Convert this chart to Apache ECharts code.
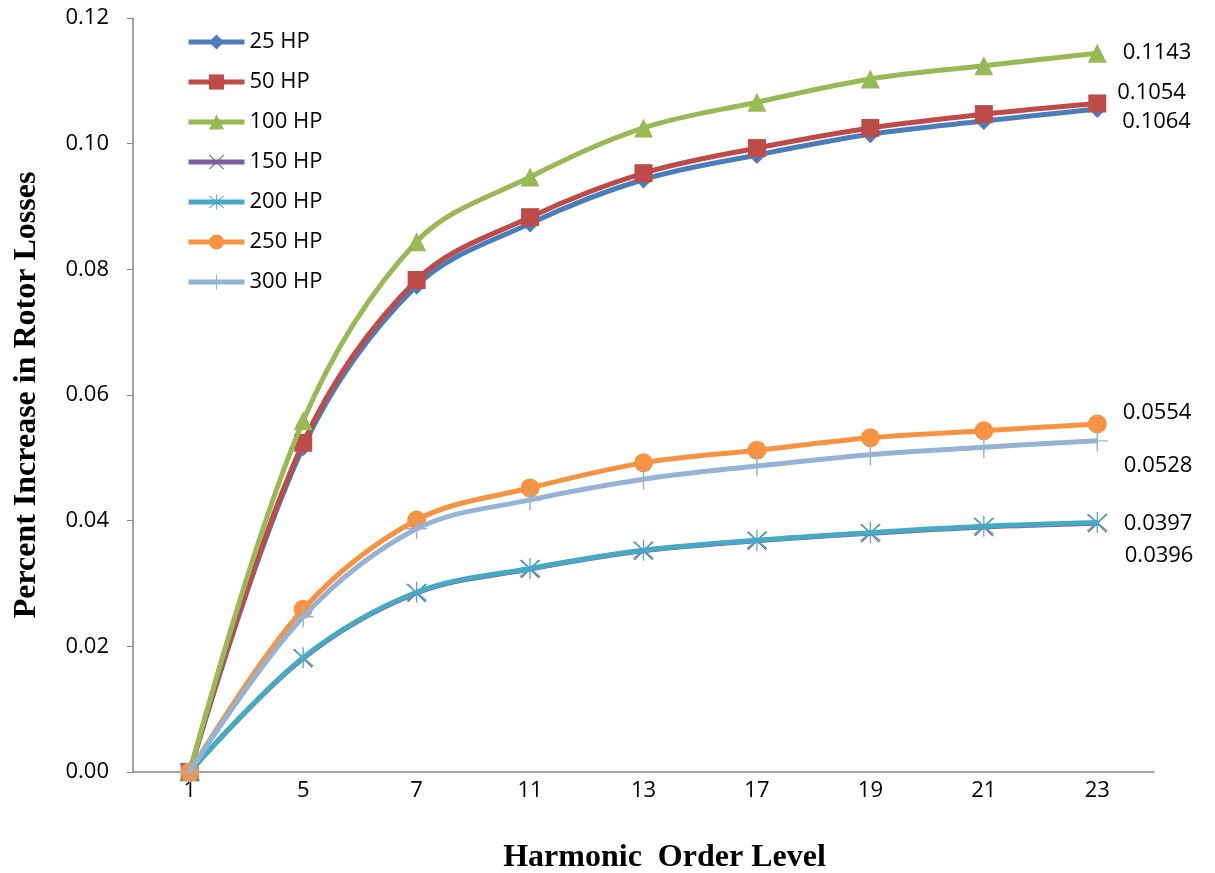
<!DOCTYPE html>
<html>
<head>
<meta charset="utf-8">
<script src="https://cdn.jsdelivr.net/npm/echarts@6/dist/echarts.min.js"></script>
<style>
html, body { margin: 0; padding: 0; background: #fff; }
#con { width: 1215px; height: 873px; }
</style>
</head>
<body>
<div id="con"></div>
<script>
// harmonic orders on the x axis
var harmonics = ['1', '5', '7', '11', '13', '17', '19', '21', '23'];

var hp25  = [0, 0.0517, 0.0774, 0.0873, 0.0943, 0.0982, 0.1015, 0.1036, 0.1055];
var hp50  = [0, 0.0524, 0.0783, 0.0883, 0.0953, 0.0993, 0.1025, 0.1047, 0.1064];
var hp100 = [0, 0.0559, 0.0844, 0.0947, 0.1025, 0.1066, 0.1103, 0.1124, 0.1144];
var hp150 = [0, 0.0181, 0.0285, 0.0323, 0.0352, 0.0368, 0.0380, 0.0390, 0.0396];
var hp200 = [0, 0.0182, 0.0286, 0.0324, 0.0353, 0.0369, 0.0381, 0.0391, 0.0397];
var hp250 = [0, 0.0259, 0.0401, 0.0452, 0.0492, 0.0512, 0.0532, 0.0543, 0.0554];
var hp300 = [0, 0.0247, 0.0387, 0.0433, 0.0466, 0.0487, 0.0505, 0.0517, 0.0527];

var names = ['25 HP', '50 HP', '100 HP', '150 HP', '200 HP', '250 HP', '300 HP'];
// text printed next to the last point of each curve
var endLabels = ['0.1064', '0.1054', '0.1143', '0.0396', '0.0397', '0.0554', '0.0528'];

var colors = ['#4A7EBB', '#BE4B48', '#98B954', '#7D60A0', '#46AAC5', '#F69240', '#95B3D7'];
var labelOffsets = [[-2, 13], [-7, -11], [-2, 0], [0, 33], [-2, 1], [-2, -11], [-2, 25]];

var xPath = 'path://M0,1 L1,0 L10,9 L19,0 L20,1 L11,10 L20,19 L19,20 L10,11 L1,20 L0,19 L9,10 Z';
var starPath = 'path://M0,1 L1,0 L10,9 L19,0 L20,1 L11,10 L20,19 L19,20 L10,11 L1,20 L0,19 L9,10 Z M9.4,-2 L10.6,-2 L10.6,22 L9.4,22 Z';
var plusPath = 'path://M9.3,0 L10.7,0 L10.7,9.3 L20,9.3 L20,10.7 L10.7,10.7 L10.7,20 L9.3,20 L9.3,10.7 L0,10.7 L0,9.3 L9.3,9.3 Z';
var symbols = ['diamond', 'rect', 'triangle', xPath, starPath, 'circle', plusPath];
var sizes = [18, 18, 19, 19, 21, 19, 21];

var allData = [hp25, hp50, hp100, hp150, hp200, hp250, hp300];

var series = [];
for (var i = 0; i < allData.length; i++) {
    var pts = [];
    for (var j = 0; j < allData[i].length; j++) {
        if (j == allData[i].length - 1) {
            pts.push({
                value: allData[i][j],
                label: {
                    show: true,
                    position: 'right',
                    distance: 18,
                    offset: labelOffsets[i],
                    formatter: endLabels[i],
                    color: '#000',
                    fontFamily: 'Open Sans',
                    fontSize: 22
                }
            });
        } else {
            pts.push(allData[i][j]);
        }
    }
    series.push({
        name: names[i],
        type: 'line',
        smooth: 0.35,
        data: pts,
        symbol: symbols[i],
        symbolSize: sizes[i],
        showAllSymbol: true,
        lineStyle: { color: colors[i], width: 5 },
        itemStyle: { color: colors[i] },
        z: 2 + i
    });
}

var myChart = echarts.init(document.getElementById('con'));
var option = {
    animation: false,
    backgroundColor: '#fff',
    color: colors,
    grid: { left: 133, right: 61, top: 18, bottom: 101, outerBoundsMode: 'none', containLabel: false },
    legend: {
        orient: 'vertical',
        left: 181,
        top: 26,
        itemWidth: 56,
        itemHeight: 19,
        itemGap: 18,
        lineStyle: { width: 5 },
        textStyle: { fontFamily: 'Open Sans', fontSize: 22, color: '#000' },
        data: names
    },
    xAxis: {
        type: 'category',
        data: harmonics,
        boundaryGap: true,
        name: 'Harmonic  Order Level',
        nameLocation: 'middle',
        nameGap: 70,
        nameTextStyle: {
            fontFamily: 'Liberation Serif', fontWeight: 'bold', fontSize: 32, color: '#000',
            padding: [0, 0, 0, 42]
        },
        axisLine: { lineStyle: { color: '#868686', width: 1.5 } },
        axisTick: { show: false },
        axisLabel: { fontFamily: 'Open Sans', fontSize: 22, color: '#000', margin: 8 },
        splitLine: { show: false }
    },
    yAxis: {
        type: 'value',
        min: 0,
        max: 0.12,
        interval: 0.02,
        name: 'Percent Increase in Rotor Losses',
        nameLocation: 'middle',
        nameGap: 90,
        nameRotate: 90,
        nameTextStyle: { fontFamily: 'Liberation Serif', fontWeight: 'bold', fontSize: 32, color: '#000' },
        axisLine: { show: true, lineStyle: { color: '#868686', width: 1.5 } },
        axisTick: { show: true, inside: false, length: 6, lineStyle: { color: '#868686' } },
        axisLabel: {
            fontFamily: 'Open Sans', fontSize: 22, color: '#000', margin: 24,
            formatter: function (v) { return v.toFixed(2); }
        },
        splitLine: { show: false }
    },
    series: series
};
myChart.setOption(option);
</script>
</body>
</html>
